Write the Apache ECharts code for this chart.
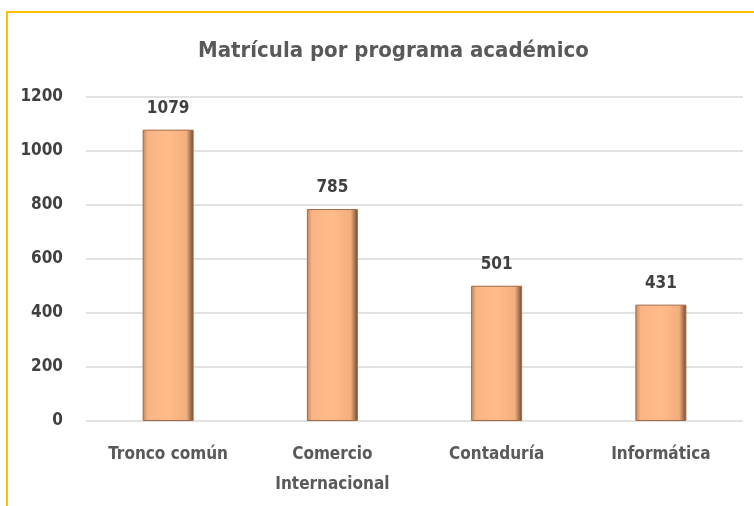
<!DOCTYPE html>
<html>
<head>
<meta charset="utf-8">
<script src="https://cdn.jsdelivr.net/npm/echarts@6/dist/echarts.min.js"></script>
<style>
html, body { margin: 0; padding: 0; background: #fff; }
#chart { width: 754px; height: 506px; }
</style>
</head>
<body>
<div id="chart"></div>
<script>
// datos del gráfico
const programas = ['Tronco común', 'Comercio\nInternacional', 'Contaduría', 'Informática'];
const matricula = [1079, 785, 501, 431];
const yTicks = [0, 200, 400, 600, 800, 1000, 1200];

const fontFam = '"DejaVu Sans Condensed", "DejaVu Sans", sans-serif';
const chart = echarts.init(document.getElementById('chart'));

const option = {
    backgroundColor: '#ffffff',
    title: {
        text: 'Matrícula por programa académico',
        left: 193,
        top: 35,
        textStyle: { color: '#595959', fontSize: 22, fontWeight: 'bold', fontFamily: fontFam }
    },
    graphic: [{
        type: 'rect',
        shape: { x: 7, y: 12, width: 800, height: 600 },
        style: { fill: 'none', stroke: '#FFC000', lineWidth: 2 },
        silent: true
    }],
    grid: { left: 86, right: 11, top: 97, bottom: 85 },
    xAxis: {
        type: 'category',
        data: programas,
        axisLine: { show: false },
        axisTick: { show: false },
        axisLabel: {
            color: '#595959', fontSize: 17, fontWeight: 'bold', fontFamily: fontFam,
            margin: 19, lineHeight: 30, interval: 0
        }
    },
    yAxis: {
        type: 'value',
        min: yTicks[0],
        max: yTicks[yTicks.length - 1],
        interval: 200,
        axisLine: { show: false },
        axisTick: { show: false },
        axisLabel: {
            color: '#404040', fontSize: 17, fontWeight: 'bold', fontFamily: fontFam, margin: 23,
            formatter: v => String(v)
        },
        splitLine: { lineStyle: { color: '#d9d9d9', width: 1.5 } }
    },
    series: [{
        type: 'bar',
        data: matricula,
        barWidth: 51,
        label: {
            show: true, position: 'top', distance: 13,
            color: '#404040', fontSize: 17, fontWeight: 'bold', fontFamily: fontFam
        },
        itemStyle: {
            borderColor: '#a06a44',
            borderWidth: 1,
            color: new echarts.graphic.LinearGradient(0, 0, 1, 0, [
                { offset: 0, color: '#c4865a' },
                { offset: 0.1, color: '#f8b484' },
                { offset: 0.5, color: '#ffbb88' },
                { offset: 0.86, color: '#f2ae7e' },
                { offset: 1, color: '#6e472e' }
            ])
        }
    }]
};

chart.setOption(option);
</script>
</body>
</html>
